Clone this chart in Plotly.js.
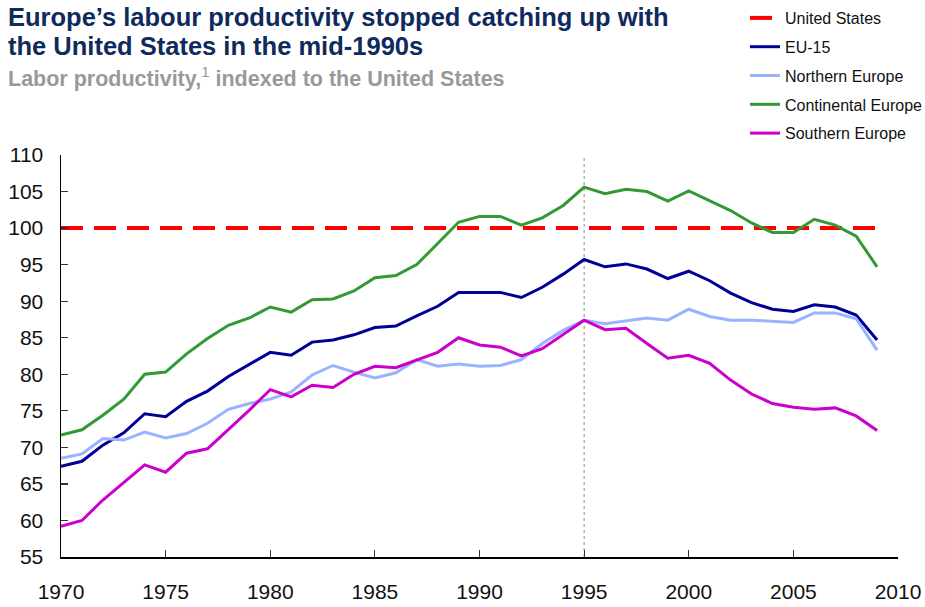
<!DOCTYPE html>
<html>
<head>
<meta charset="utf-8">
<script src="https://cdn.plot.ly/plotly-3.0.1.min.js"></script>
<style>html,body{margin:0;padding:0;background:#fff;}#chart{width:925px;height:607px;}</style>
</head>
<body>
<div id="chart"></div>
<script>
const years = [1970,1971,1972,1973,1974,1975,1976,1977,1978,1979,1980,1981,1982,1983,1984,1985,1986,1987,1988,1989,1990,1991,1992,1993,1994,1995,1996,1997,1998,1999,2000,2001,2002,2003,2004,2005,2006,2007,2008,2009];
const unitedStates = years.map(() => 100);
const eu15 = [67.4,68.1,70.3,72.0,74.6,74.2,76.3,77.7,79.7,81.3,83.0,82.6,84.4,84.7,85.4,86.4,86.6,88.0,89.3,91.2,91.2,91.2,90.5,91.9,93.7,95.7,94.7,95.1,94.4,93.1,94.1,92.8,91.1,89.8,88.9,88.6,89.5,89.2,88.1,84.7];
const northernEurope = [68.5,69.1,71.2,71.0,72.1,71.3,71.9,73.3,75.2,76.0,76.6,77.6,79.9,81.2,80.3,79.5,80.2,82.0,81.1,81.4,81.1,81.2,82.0,84.2,86.0,87.4,86.9,87.3,87.7,87.4,88.9,87.9,87.4,87.4,87.2,87.1,88.4,88.4,87.6,83.3];
const continentalEurope = [71.7,72.4,74.4,76.6,80.0,80.3,82.8,84.9,86.7,87.7,89.2,88.5,90.2,90.3,91.4,93.2,93.5,95.0,97.9,100.8,101.6,101.6,100.4,101.4,103.1,105.6,104.7,105.3,105.0,103.7,105.1,103.7,102.4,100.7,99.4,99.4,101.2,100.4,98.9,94.7];
const southernEurope = [59.2,60.0,62.8,65.2,67.6,66.6,69.2,69.8,72.4,75.1,77.9,76.9,78.5,78.2,80.0,81.1,80.9,81.9,83.0,85.0,84.0,83.7,82.5,83.5,85.5,87.4,86.1,86.3,84.2,82.2,82.6,81.5,79.2,77.3,76.0,75.5,75.2,75.4,74.3,72.3];
const seriesNames = ["United States","EU-15","Northern Europe","Continental Europe","Southern Europe"];
const markerYear = [1995];
const xTicks = [1970,1975,1980,1985,1990,1995,2000,2005,2010];
const yTicks = [55,60,65,70,75,80,85,90,95,100,105,110];
const titleLines = ["Europe’s labour productivity stopped catching up with", "the United States in the mid-1990s"];
const subtitle = "<b>Labor productivity,</b><sup>1</sup><b> indexed to the United States</b>";

const FONT = "'Liberation Sans', Arial, Helvetica, sans-serif";
const colors = ["#ff0000","#000099","#99b3ff","#339933","#cc00cc"];
const values = [unitedStates, eu15, northernEurope, continentalEurope, southernEurope];

const W = 925, H = 607, ML = 61, MR = 27, MT = 155, MB = 50;
const PW = W - ML - MR, PH = H - MT - MB;
const px = v => (v - ML) / PW;          // container px -> paper x
const py = v => (H - MB - v) / PH;      // container px -> paper y

const traces = values.map((v, i) => ({
  x: years, y: v, name: seriesNames[i], type: "scatter", mode: "lines",
  legendgroup: "g" + i,
  line: i === 0 ? {color: colors[i], width: 4, dash: "22px,11px"} : {color: colors[i], width: 3},
  hoverinfo: "x+y+name"
}));

const layout = {
  width: W, height: H,
  margin: {l: ML, r: MR, t: MT, b: MB, autoexpand: false},
  paper_bgcolor: "#fff", plot_bgcolor: "#fff",
  font: {family: FONT, color: "#111"},
  annotations: [
    {text: "<b>" + titleLines[0] + "</b>", xref: "paper", yref: "paper", x: px(6), y: py(17.5),
     xanchor: "left", yanchor: "middle", showarrow: false,
     font: {family: FONT, size: 25.5, color: "#0f2a5c"}},
    {text: "<b>" + titleLines[1] + "</b>", xref: "paper", yref: "paper", x: px(6), y: py(45.5),
     xanchor: "left", yanchor: "middle", showarrow: false,
     font: {family: FONT, size: 25.5, color: "#0f2a5c"}},
    {text: subtitle, xref: "paper", yref: "paper", x: px(6), y: py(77),
     xanchor: "left", yanchor: "middle", showarrow: false,
     font: {family: FONT, size: 21.5, color: "#999999"}}
  ],
  showlegend: true,
  legend: {
    xref: "container", yref: "container",
    x: 745/W, y: 1 - 1/H, xanchor: "left", yanchor: "top",
    font: {family: FONT, size: 16, color: "#111"},
    traceorder: "grouped", tracegroupgap: 5,
    bgcolor: "rgba(0,0,0,0)"
  },
  xaxis: {
    range: [1970, 2010], tickvals: xTicks, ticktext: xTicks.map(String),
    showgrid: false, zeroline: false, showline: true, linecolor: "#000", linewidth: 1.5,
    ticks: "inside", ticklen: 7, tickcolor: "#333", tickwidth: 1.2,
    tickfont: {family: FONT, size: 21, color: "#111"}, ticklabelstandoff: 15,
    fixedrange: true
  },
  yaxis: {
    range: [55, 110], tickvals: yTicks, ticktext: yTicks.map(String),
    showgrid: false, zeroline: false, showline: true, linecolor: "#000", linewidth: 1.5,
    ticks: "inside", ticklen: 7, tickcolor: "#333", tickwidth: 1.2,
    tickfont: {family: FONT, size: 21, color: "#111"}, ticklabelstandoff: 12,
    fixedrange: true
  },
  shapes: markerYear.map(yr => ({
    type: "line", xref: "x", yref: "paper", x0: yr, x1: yr, y0: 0, y1: 1,
    line: {color: "#888", width: 1, dash: "3px,3px"}, layer: "below"
  }))
};
Plotly.newPlot("chart", traces, layout, {displayModeBar: false, staticPlot: true});
</script>
</body>
</html>
